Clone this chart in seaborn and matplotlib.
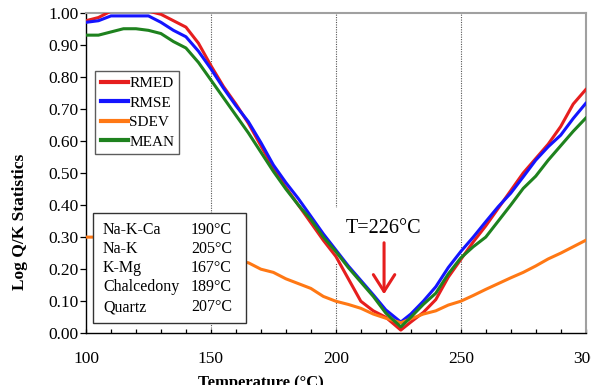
import numpy as np
import pandas as pd
import matplotlib
matplotlib.use("Agg")
import matplotlib.pyplot as plt
from matplotlib.ticker import MultipleLocator, FormatStrFormatter
from matplotlib.patches import Rectangle
import seaborn as sns

# ---------------- data ----------------
temperature = [100, 105, 110, 115, 120, 125, 130, 135, 140, 145, 150, 155, 160,
               165, 170, 175, 180, 185, 190, 195, 200, 205, 210, 215, 220, 226,
               230, 235, 240, 245, 250, 255, 260, 265, 270, 275, 280, 285, 290,
               295, 300]

rmed = [0.975, 0.985, 1.005, 1.01, 1.01, 1.005, 0.995, 0.975, 0.955, 0.905,
        0.835, 0.77, 0.715, 0.655, 0.585, 0.515, 0.455, 0.40, 0.345, 0.29,
        0.24, 0.17, 0.10, 0.07, 0.05, 0.01, 0.035, 0.065, 0.105, 0.175,
        0.23, 0.285, 0.335, 0.39, 0.445, 0.50, 0.545, 0.59, 0.645, 0.715, 0.76]

rmse = [0.97, 0.975, 0.99, 0.99, 0.99, 0.99, 0.97, 0.945, 0.925, 0.88,
        0.825, 0.765, 0.71, 0.66, 0.595, 0.525, 0.47, 0.42, 0.365, 0.31,
        0.26, 0.21, 0.165, 0.12, 0.073, 0.035, 0.06, 0.10, 0.145, 0.205,
        0.255, 0.30, 0.348, 0.395, 0.437, 0.488, 0.54, 0.582, 0.618, 0.67, 0.717]

sdev = [0.30, 0.30, 0.29, 0.28, 0.27, 0.26, 0.255, 0.25, 0.245, 0.24,
        0.235, 0.23, 0.225, 0.22, 0.20, 0.19, 0.17, 0.155, 0.14, 0.115,
        0.10, 0.09, 0.078, 0.06, 0.047, 0.033, 0.045, 0.06, 0.07, 0.088,
        0.10, 0.118, 0.137, 0.155, 0.173, 0.19, 0.21, 0.232, 0.25, 0.27, 0.29]

mean = [0.93, 0.93, 0.94, 0.95, 0.95, 0.945, 0.935, 0.91, 0.89, 0.845,
        0.79, 0.735, 0.68, 0.625, 0.565, 0.505, 0.45, 0.40, 0.355, 0.30,
        0.255, 0.205, 0.16, 0.115, 0.063, 0.02, 0.05, 0.09, 0.125, 0.185,
        0.235, 0.27, 0.30, 0.35, 0.40, 0.452, 0.49, 0.54, 0.585, 0.63, 0.671]

series_names = ["RMED", "RMSE", "SDEV", "MEAN"]
series_colors = ["#e61e1e", "#1414ff", "#ff7814", "#1e821e"]

geo_names = ["Na-K-Ca", "Na-K", "K-Mg", "Chalcedony", "Quartz"]
geo_temps = ["190°C", "205°C", "167°C", "189°C", "207°C"]

best_T = 226
annotation_text = "T=226°C"

# ---------------- build long table ----------------
df = pd.concat([
    pd.DataFrame({"Temperature": temperature, "Value": vals, "Statistic": name})
    for name, vals in zip(series_names, [rmed, rmse, sdev, mean])
], ignore_index=True)

# ---------------- figure ----------------
plt.rcParams["font.family"] = ["Liberation Serif", "DejaVu Serif"]
fig = plt.figure(figsize=(5.91, 3.85), dpi=100)
ax = fig.add_axes([0.1455, 0.1343, 0.8455, 0.8327])

# vertical dotted grid lines
for gx in [150, 200, 250]:
    ax.axvline(gx, color="#555555", lw=0.8, ls=(0, (1, 1.2)), zorder=1)

# white background behind the T annotation (hides the grid line)
ax.add_patch(Rectangle((199.6, 0.219), 38.4, 0.172, facecolor="white",
                       edgecolor="none", zorder=1.5))

sns.lineplot(data=df, x="Temperature", y="Value", hue="Statistic",
             hue_order=series_names, palette=series_colors, lw=2.2,
             ax=ax, zorder=3, legend=True)

ax.set_xlim(100, 300)
ax.set_ylim(0, 1.0)

# ticks
ax.xaxis.set_major_locator(MultipleLocator(50))
ax.xaxis.set_minor_locator(MultipleLocator(10))
ax.yaxis.set_major_locator(MultipleLocator(0.1))
ax.yaxis.set_major_formatter(FormatStrFormatter("%.2f"))
ax.tick_params(axis="x", which="both", direction="in", length=3, width=0.9,
               pad=13, labelsize=12.5, colors="black")
ax.tick_params(axis="y", which="major", direction="out", length=4.5, width=0.9,
               pad=1, labelsize=12.5)

# spines
for s in ["left", "bottom"]:
    ax.spines[s].set_color("black")
    ax.spines[s].set_linewidth(1.0)
for s in ["top", "right"]:
    ax.spines[s].set_color("#a0a0a0")
    ax.spines[s].set_linewidth(1.5)

# labels
ax.set_xlabel("Temperature (°C)", fontsize=12, fontweight="bold")
ax.set_ylabel("Log Q/K Statistics", fontsize=12.5, fontweight="bold")
ax.xaxis.set_label_coords(0.350, -0.130)
ax.yaxis.set_label_coords(-0.116, 0.349)

# legend
handles, labels = ax.get_legend_handles_labels()
leg = ax.legend(handles, labels, loc="upper left", bbox_to_anchor=(0.019, 0.818),
                borderaxespad=0, frameon=True, fancybox=False, fontsize=11,
                handlelength=1.75, handletextpad=0.1, labelspacing=0.38,
                borderpad=0.35)
leg.get_frame().set_edgecolor("#333333")
leg.get_frame().set_linewidth(1.0)
for h in leg.legend_handles:
    h.set_linewidth(3)

# geothermometer box
ax.add_patch(Rectangle((0.0134, 0.031), 0.3068, 0.345, transform=ax.transAxes,
                       facecolor="white", edgecolor="#333333", lw=1.0, zorder=5))
row_y = [0.322, 0.263, 0.204, 0.144, 0.082]
for name, t, yy in zip(geo_names, geo_temps, row_y):
    ax.text(0.034, yy, name, transform=ax.transAxes, fontsize=11.5,
            ha="left", va="center", zorder=6)
    ax.text(0.292, yy, t, transform=ax.transAxes, fontsize=11.5,
            ha="right", va="center", zorder=6)

# annotation
ax.text(218.9, 0.328, annotation_text, fontsize=14.5, ha="center",
        va="center", zorder=6)
ax.annotate("", xy=(219.3, 0.113), xytext=(219.3, 0.291),
            arrowprops=dict(arrowstyle="->,head_length=0.55,head_width=0.35",
                            color="#e61e1e", lw=2.2, mutation_scale=22),
            zorder=6)

fig.savefig("out.png", dpi=100)
